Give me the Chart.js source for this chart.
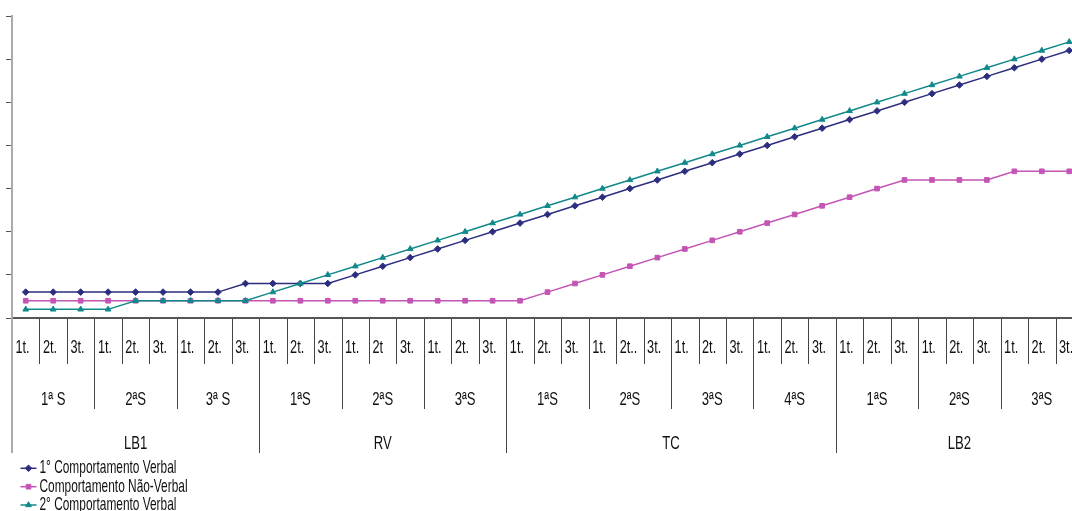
<!DOCTYPE html>
<html><head><meta charset="utf-8">
<script src="https://cdn.jsdelivr.net/npm/chart.js@4.4.1/dist/chart.umd.min.js"></script>
<style>
html,body{margin:0;padding:0;overflow:hidden;background:#fff;width:1072px;height:511px}
#wrap{position:absolute;left:0;top:0;width:1083px;height:511px}
</style>
</head><body><div id="wrap"><canvas id="c" width="1083" height="511"></canvas></div>
<script>
// ---- data ----
const trialLabels = [
  '1t.','2t.','3t.','1t.','2t.','3t.','1t.','2t.','3t.',
  '1t.','2t.','3t.','1t.','2t','3t.','1t.','2t.','3t.',
  '1t.','2t.','3t.','1t.','2t..','3t.','1t.','2t.','3t.','1t.','2t.','3t.',
  '1t.','2t.','3t.','1t.','2t.','3t.','1t.','2t.','3t.'
];
const sessionLabels = ['1ª S','2ªS','3ª S','1ªS','2ªS','3ªS','1ªS','2ªS','3ªS','4ªS','1ªS','2ªS','3ªS'];
const sessionTrials = [3,3,3,3,3,3,3,3,3,3,3,3,3];
const phaseLabels = ['LB1','RV','TC','LB2'];
const phaseSessions = [3,3,4,3];
const seriesNames = ['1° Comportamento Verbal','Comportamento Não-Verbal','2° Comportamento Verbal'];
const verbal1 = [0.6,0.6,0.6,0.6,0.6,0.6,0.6,0.6,0.8,0.8,0.8,0.8,
  1.0,1.2,1.4,1.6,1.8,2.0,2.2,2.4,2.6,2.8,3.0,3.2,3.4,3.6,3.8,4.0,4.2,4.4,4.6,4.8,5.0,5.2,5.4,5.6,5.8,6.0,6.2];
const naoVerbal = [0.4,0.4,0.4,0.4,0.4,0.4,0.4,0.4,0.4,0.4,0.4,0.4,0.4,0.4,0.4,0.4,0.4,0.4,0.4,
  0.6,0.8,1.0,1.2,1.4,1.6,1.8,2.0,2.2,2.4,2.6,2.8,3.0,3.2,3.2,3.2,3.2,3.4,3.4,3.4];
const verbal2 = [0.2,0.2,0.2,0.2,0.4,0.4,0.4,0.4,0.4,
  0.6,0.8,1.0,1.2,1.4,1.6,1.8,2.0,2.2,2.4,2.6,2.8,3.0,3.2,3.4,3.6,3.8,4.0,4.2,4.4,4.6,4.8,5.0,5.2,5.4,5.6,5.8,6.0,6.2,6.4];

// ---- styles ----
const colors = ['#2D2D7F','#C455B5','#11898A'];
const styles = ['rectRot','rect','triangle'];
const radii = [3.3,3.3,3.3];

// font detection
const m = document.createElement('canvas').getContext('2d');
m.font = '20px "Liberation Sans Narrow", monospace'; const wa = m.measureText('Comportamento').width;
m.font = '20px monospace'; const wb = m.measureText('Comportamento').width;
let FAM, SX;
if (Math.abs(wa - wb) > 0.5) { FAM = '"Liberation Sans Narrow"'; SX = 1; }
else { FAM = '"Liberation Sans", Arial, sans-serif'; SX = 0.82; }

function txt(ctx, s, x, y, size, align, sy) {
  ctx.save();
  ctx.translate(x, y);
  ctx.scale(SX, sy);
  ctx.font = size + 'px ' + FAM;
  ctx.textAlign = align;
  ctx.textBaseline = 'middle';
  ctx.fillStyle = '#111';
  ctx.fillText(s, 0, 0);
  ctx.restore();
}

const tablePlugin = {
  id: 'table',
  afterDraw(chart) {
    const ctx = chart.ctx, xs = chart.scales.x, area = chart.chartArea;
    const n = trialLabels.length;
    const w = xs.getPixelForValue(1) - xs.getPixelForValue(0);
    const edge = i => xs.getPixelForValue(0) - w / 2 + i * w;
    const sessStarts = new Set(); let acc = 0;
    sessionTrials.forEach(t => { sessStarts.add(acc); acc += t; }); sessStarts.add(acc);
    const phaseStarts = new Set(); let si = 0, ti = 0;
    phaseSessions.forEach(ns => { phaseStarts.add(ti); for (let k = 0; k < ns; k++) { ti += sessionTrials[si++]; } }); phaseStarts.add(ti);
    const y0 = area.bottom;
    for (let i = 0; i <= n; i++) {
      const x = Math.round(edge(i)) + 0.5;
      let yEnd = 364;
      if (sessStarts.has(i)) yEnd = 409;
      if (phaseStarts.has(i)) yEnd = 453;
      ctx.save();
      ctx.beginPath();
      if (i === 0) { ctx.strokeStyle = '#aaaaaa'; ctx.lineWidth = 2; ctx.moveTo(area.left, y0); ctx.lineTo(area.left, yEnd); }
      else { ctx.strokeStyle = '#444'; ctx.lineWidth = 1; ctx.moveTo(x, y0 + 1); ctx.lineTo(x, yEnd); }
      ctx.stroke();
      ctx.restore();
    }
    trialLabels.forEach((s, i) => txt(ctx, s, edge(i) + 3.5, 348, 15.5, 'left', 1.2));
    let start = 0;
    sessionLabels.forEach((s, k) => {
      const c = (edge(start) + edge(start + sessionTrials[k])) / 2;
      txt(ctx, s, c, 400, 16, 'center', 1.2);
      start += sessionTrials[k];
    });
    start = 0; si = 0;
    phaseLabels.forEach((s, k) => {
      let cnt = 0; for (let j = 0; j < phaseSessions[k]; j++) cnt += sessionTrials[si++];
      const c = (edge(start) + edge(start + cnt)) / 2;
      txt(ctx, s, c, 444, 16, 'center', 1.2);
      start += cnt;
    });
    const ly = [468.3, 486.7, 505];
    seriesNames.forEach((s, k) => {
      ctx.save();
      ctx.strokeStyle = colors[k]; ctx.lineWidth = 1.5;
      ctx.beginPath(); ctx.moveTo(20.5, ly[k]); ctx.lineTo(36.5, ly[k]); ctx.stroke();
      ctx.fillStyle = colors[k]; ctx.lineWidth = 1;
      Chart.helpers.drawPoint(ctx, {pointStyle: styles[k], radius: radii[k], rotation: 0, borderWidth: 1}, 28.5, ly[k]);
      ctx.restore();
      txt(ctx, s, 39.5, ly[k], 14.5, 'left', 1.28);
    });
  }
};

const mk = (k, data, order) => ({
  label: seriesNames[k], data, order,
  borderColor: colors[k], backgroundColor: colors[k],
  borderWidth: 1.5, pointStyle: styles[k], pointRadius: radii[k],
  pointBorderWidth: 1, pointBorderColor: colors[k], pointBackgroundColor: colors[k],
  tension: 0, fill: false
});

new Chart(document.getElementById('c'), {
  type: 'line',
  data: {
    labels: trialLabels,
    datasets: [mk(0, verbal1, 2), mk(1, naoVerbal, 1), mk(2, verbal2, 0)]
  },
  options: {
    responsive: false, animation: false,
    layout: { padding: { top: 16, left: 0, right: 0, bottom: 0 }, autoPadding: false },
    plugins: { legend: { display: false }, tooltip: { enabled: false } },
    scales: {
      x: {
        type: 'category', offset: true,
        ticks: { display: false },
        grid: { display: false, offset: true },
        border: { display: true, color: '#555', width: 2 },
        afterFit(s) { s.height = 193; }
      },
      y: {
        min: 0, max: 7,
        ticks: { stepSize: 1, display: false },
        grid: { drawOnChartArea: false, drawTicks: true, tickLength: 6, color: '#555', lineWidth: 1 },
        border: { display: true, color: '#aaaaaa', width: 2 },
        afterFit(s) { s.width = 12; }
      }
    }
  },
  plugins: [tablePlugin]
});
</script>
</body></html>
